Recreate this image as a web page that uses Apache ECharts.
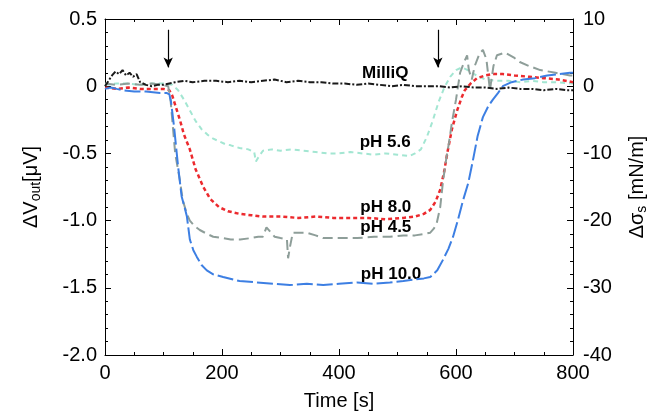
<!DOCTYPE html>
<html>
<head>
<meta charset="utf-8">
<script src="https://cdn.jsdelivr.net/npm/echarts@6/dist/echarts.min.js"></script>
<style>
html,body{margin:0;padding:0;background:#fff;}
#c{width:660px;height:420px;}
</style>
</head>
<body>
<div id="c"></div>
<script>
// ---- data ----
const milliqT = [0,6,12,18,24,30,36,42,48,54,60,70,80,90,100,110,120,135,150,170,190,210,230,250,270,290,310,330,350,370,390,410,430,450,470,490,510,530,550,570,590,610,630,650,670,690,710,730,750,770,790,800];
const milliqV = [0.0,0.04,0.08,0.11,0.09,0.12,0.08,0.10,0.07,0.09,0.03,0.01,0.0,0.01,0.01,0.02,0.03,0.04,0.03,0.04,0.04,0.03,0.04,0.03,0.04,0.05,0.03,0.04,0.03,0.03,0.02,0.02,0.01,0.02,0.01,0.0,0.01,0.0,0.0,0.0,-0.01,0.0,-0.01,-0.01,-0.02,-0.01,-0.02,-0.02,-0.03,-0.02,-0.03,-0.03];

const ph56T = [0,20,40,60,80,100,115,125,135,145,155,165,175,185,195,205,215,230,245,255,258,262,270,285,300,320,340,360,380,400,420,440,460,480,500,520,530,540,550,560,570,580,590,600,610,620,635,650,670,690,710,730,750,770,800];
const ph56V = [0.01,0.02,0.02,0.01,0.02,0.02,0.01,-0.03,-0.1,-0.18,-0.26,-0.32,-0.36,-0.39,-0.41,-0.43,-0.44,-0.46,-0.47,-0.49,-0.56,-0.53,-0.48,-0.47,-0.48,-0.47,-0.48,-0.49,-0.5,-0.5,-0.49,-0.5,-0.51,-0.5,-0.51,-0.52,-0.5,-0.47,-0.38,-0.26,-0.12,-0.01,0.07,0.12,0.14,0.12,0.08,0.05,0.04,0.04,0.03,0.04,0.03,0.03,0.02];

const ph80T = [0,20,40,60,80,100,110,115,120,128,135,145,155,168,180,195,210,230,250,270,300,330,360,390,420,450,480,510,530,545,556,565,573,580,585,593,602,610,615,625,636,650,663,680,700,726,750,775,800];
const ph80V = [-0.01,-0.02,-0.01,-0.02,-0.02,-0.02,-0.03,-0.07,-0.14,-0.25,-0.36,-0.47,-0.62,-0.75,-0.84,-0.9,-0.93,-0.95,-0.96,-0.97,-0.97,-0.98,-0.97,-0.98,-0.98,-0.98,-0.99,-0.98,-0.97,-0.95,-0.92,-0.86,-0.77,-0.63,-0.5,-0.32,-0.18,-0.08,-0.03,0.02,0.06,0.08,0.09,0.09,0.08,0.07,0.06,0.05,0.03];

const ph45T = [0,20,40,60,80,100,108,112,116,120,124,128,133,140,145,153,162,175,185,200,215,231,250,262,270,276,282,290,300,311,313,316,321,333,345,360,373,400,431,460,487,510,530,545,556,562,567,573,578,583,588,593,600,607,613,619,622,627,632,640,646,652,658,664,670,684,700,709,725,744,770,795,800];
const ph45V = [0.02,0.01,0.02,0.01,0.02,0.01,0.0,-0.1,-0.3,-0.5,-0.6,-0.7,-0.85,-0.95,-1.0,-1.04,-1.07,-1.1,-1.12,-1.13,-1.14,-1.14,-1.13,-1.12,-1.12,-1.05,-1.08,-1.12,-1.13,-1.14,-1.28,-1.2,-1.09,-1.09,-1.09,-1.11,-1.13,-1.13,-1.13,-1.12,-1.12,-1.11,-1.11,-1.1,-1.09,-1.06,-1.02,-0.9,-0.7,-0.55,-0.42,-0.27,-0.1,0.1,0.17,0.23,0.12,0.05,0.15,0.24,0.27,0.2,-0.03,0.15,0.23,0.25,0.21,0.18,0.15,0.12,0.1,0.08,0.08];

const ph100T = [0,10,20,31,50,70,94,105,110,113,118,125,131,136,140,145,151,157,165,174,185,202,230,260,290,316,345,373,400,431,460,487,510,527,545,556,568,578,587,595,603,612,621,629,637,646,655,663,672,680,695,715,735,756,775,795,800];
const ph100V = [-0.02,-0.01,-0.02,-0.03,-0.04,-0.04,-0.05,-0.05,-0.06,-0.12,-0.3,-0.6,-0.82,-0.9,-0.97,-1.14,-1.22,-1.27,-1.33,-1.37,-1.4,-1.42,-1.45,-1.46,-1.47,-1.48,-1.47,-1.48,-1.47,-1.46,-1.47,-1.46,-1.45,-1.44,-1.43,-1.42,-1.37,-1.29,-1.21,-1.12,-1.0,-0.85,-0.72,-0.55,-0.37,-0.23,-0.15,-0.1,-0.05,0.0,0.03,0.05,0.06,0.08,0.09,0.1,0.1];

const seriesNames = ['MilliQ','pH 5.6','pH 8.0','pH 4.5','pH 10.0'];
const labelT = [479, 479, 480, 480, 489];
const labelV = [0.098, -0.42, -0.9, -1.05, -1.4];
const arrowT = [108, 569];
const arrowTopV = 0.42, arrowTipV = 0.14;

// ---- chart ----
const FONT = '"Liberation Sans", Arial, Helvetica, sans-serif';
const zip = (t, v) => t.map((x, i) => [x, v[i]]);
const chart = echarts.init(document.getElementById('c'), null, {renderer: 'canvas'});

const styles = [
  {color: '#1a1a1a', type: [6, 2, 2, 2], width: 2},
  {color: '#a3e6d2', type: [5, 4], width: 2},
  {color: '#ec2a2e', type: [4, 3], width: 2.5},
  {color: '#8e9e99', type: [10, 5], width: 2},
  {color: '#3d7fe3', type: [16, 4], width: 2}
];
const dataSets = [zip(milliqT, milliqV), zip(ph56T, ph56V), zip(ph80T, ph80V), zip(ph45T, ph45V), zip(ph100T, ph100V)];
const order = [1, 2, 3, 4, 0];

const series = order.map((k, idx) => {
  const s = {
    name: seriesNames[k],
    type: 'line',
    data: dataSets[k],
    showSymbol: false,
    symbol: 'none',
    animation: false,
    lineStyle: styles[k],
    z: 2 + idx,
    markPoint: {
      symbol: 'circle', symbolSize: 0, animation: false, silent: true,
      data: [{coord: [labelT[k], labelV[k]], value: seriesNames[k]}],
      label: {show: true, position: 'inside', formatter: seriesNames[k], color: '#000',
        fontFamily: FONT, fontWeight: 'bold', fontSize: 17}
    }
  };
  if (k === 0) {
    s.markLine = {
      silent: true, animation: false,
      symbol: ['none', 'arrow'], symbolSize: [7, 10],
      label: {show: false},
      lineStyle: {color: '#000', width: 1.2, type: 'solid'},
      data: arrowT.map(t => [{coord: [t, arrowTopV]}, {coord: [t, arrowTipV]}])
    };
  }
  return s;
});

const tickStyle = {color: '#000', width: 1};
const option = {
  backgroundColor: '#fff',
  animation: false,
  grid: {left: 105, right: 87, top: 19, bottom: 65},
  xAxis: [{
    type: 'value', min: 0, max: 800, interval: 200, position: 'bottom',
    name: 'Time [s]', nameLocation: 'middle', nameGap: 36,
    nameTextStyle: {fontFamily: FONT, fontSize: 20, color: '#000'},
    axisLine: {show: true, onZero: false, lineStyle: tickStyle},
    axisTick: {show: true, inside: true, length: 6, lineStyle: tickStyle},
    minorTick: {show: true, splitNumber: 4, length: 3, lineStyle: tickStyle},
    axisLabel: {fontFamily: FONT, fontSize: 20, color: '#000', margin: 8},
    splitLine: {show: false}
  }, {
    type: 'value', min: 0, max: 800, interval: 200, position: 'top',
    axisLine: {show: true, onZero: false, lineStyle: tickStyle},
    axisTick: {show: true, inside: true, length: 6, lineStyle: tickStyle},
    minorTick: {show: true, splitNumber: 4, length: 3, lineStyle: tickStyle},
    axisLabel: {show: false},
    splitLine: {show: false}
  }],
  yAxis: [{
    type: 'value', min: -2, max: 0.5, interval: 0.5, position: 'left',
    name: '{n|ΔV}{s|out}{n|[μV]}', nameLocation: 'middle', nameGap: 62, nameRotate: 90,
    nameTextStyle: {
      fontFamily: FONT, color: '#000',
      rich: {
        n: {fontFamily: FONT, fontSize: 20, color: '#000', lineHeight: 24},
        s: {fontFamily: FONT, fontSize: 14, color: '#000', lineHeight: 8, verticalAlign: 'bottom'}
      }
    },
    axisLine: {show: true, onZero: false, lineStyle: tickStyle},
    axisTick: {show: true, inside: true, length: 6, lineStyle: tickStyle},
    minorTick: {show: true, splitNumber: 5, length: 3, lineStyle: tickStyle},
    axisLabel: {fontFamily: FONT, fontSize: 20, color: '#000', margin: 8,
      formatter: v => (v === 0 ? '0' : v.toFixed(1))},
    splitLine: {show: false}
  }, {
    type: 'value', min: -40, max: 10, interval: 10, position: 'right',
    name: '{n|Δσ}{s|s}{n| [mN/m]}', nameLocation: 'middle', nameGap: 52, nameRotate: 90,
    nameTextStyle: {
      fontFamily: FONT, color: '#000',
      rich: {
        n: {fontFamily: FONT, fontSize: 20, color: '#000', lineHeight: 24},
        s: {fontFamily: FONT, fontSize: 14, color: '#000', lineHeight: 8, verticalAlign: 'bottom'}
      }
    },
    axisLine: {show: true, onZero: false, lineStyle: tickStyle},
    axisTick: {show: true, inside: true, length: 6, lineStyle: tickStyle},
    minorTick: {show: true, splitNumber: 5, length: 3, lineStyle: tickStyle},
    axisLabel: {fontFamily: FONT, fontSize: 20, color: '#000', margin: 10},
    splitLine: {show: false}
  }],
  series: series
};
chart.setOption(option);
</script>
</body>
</html>
